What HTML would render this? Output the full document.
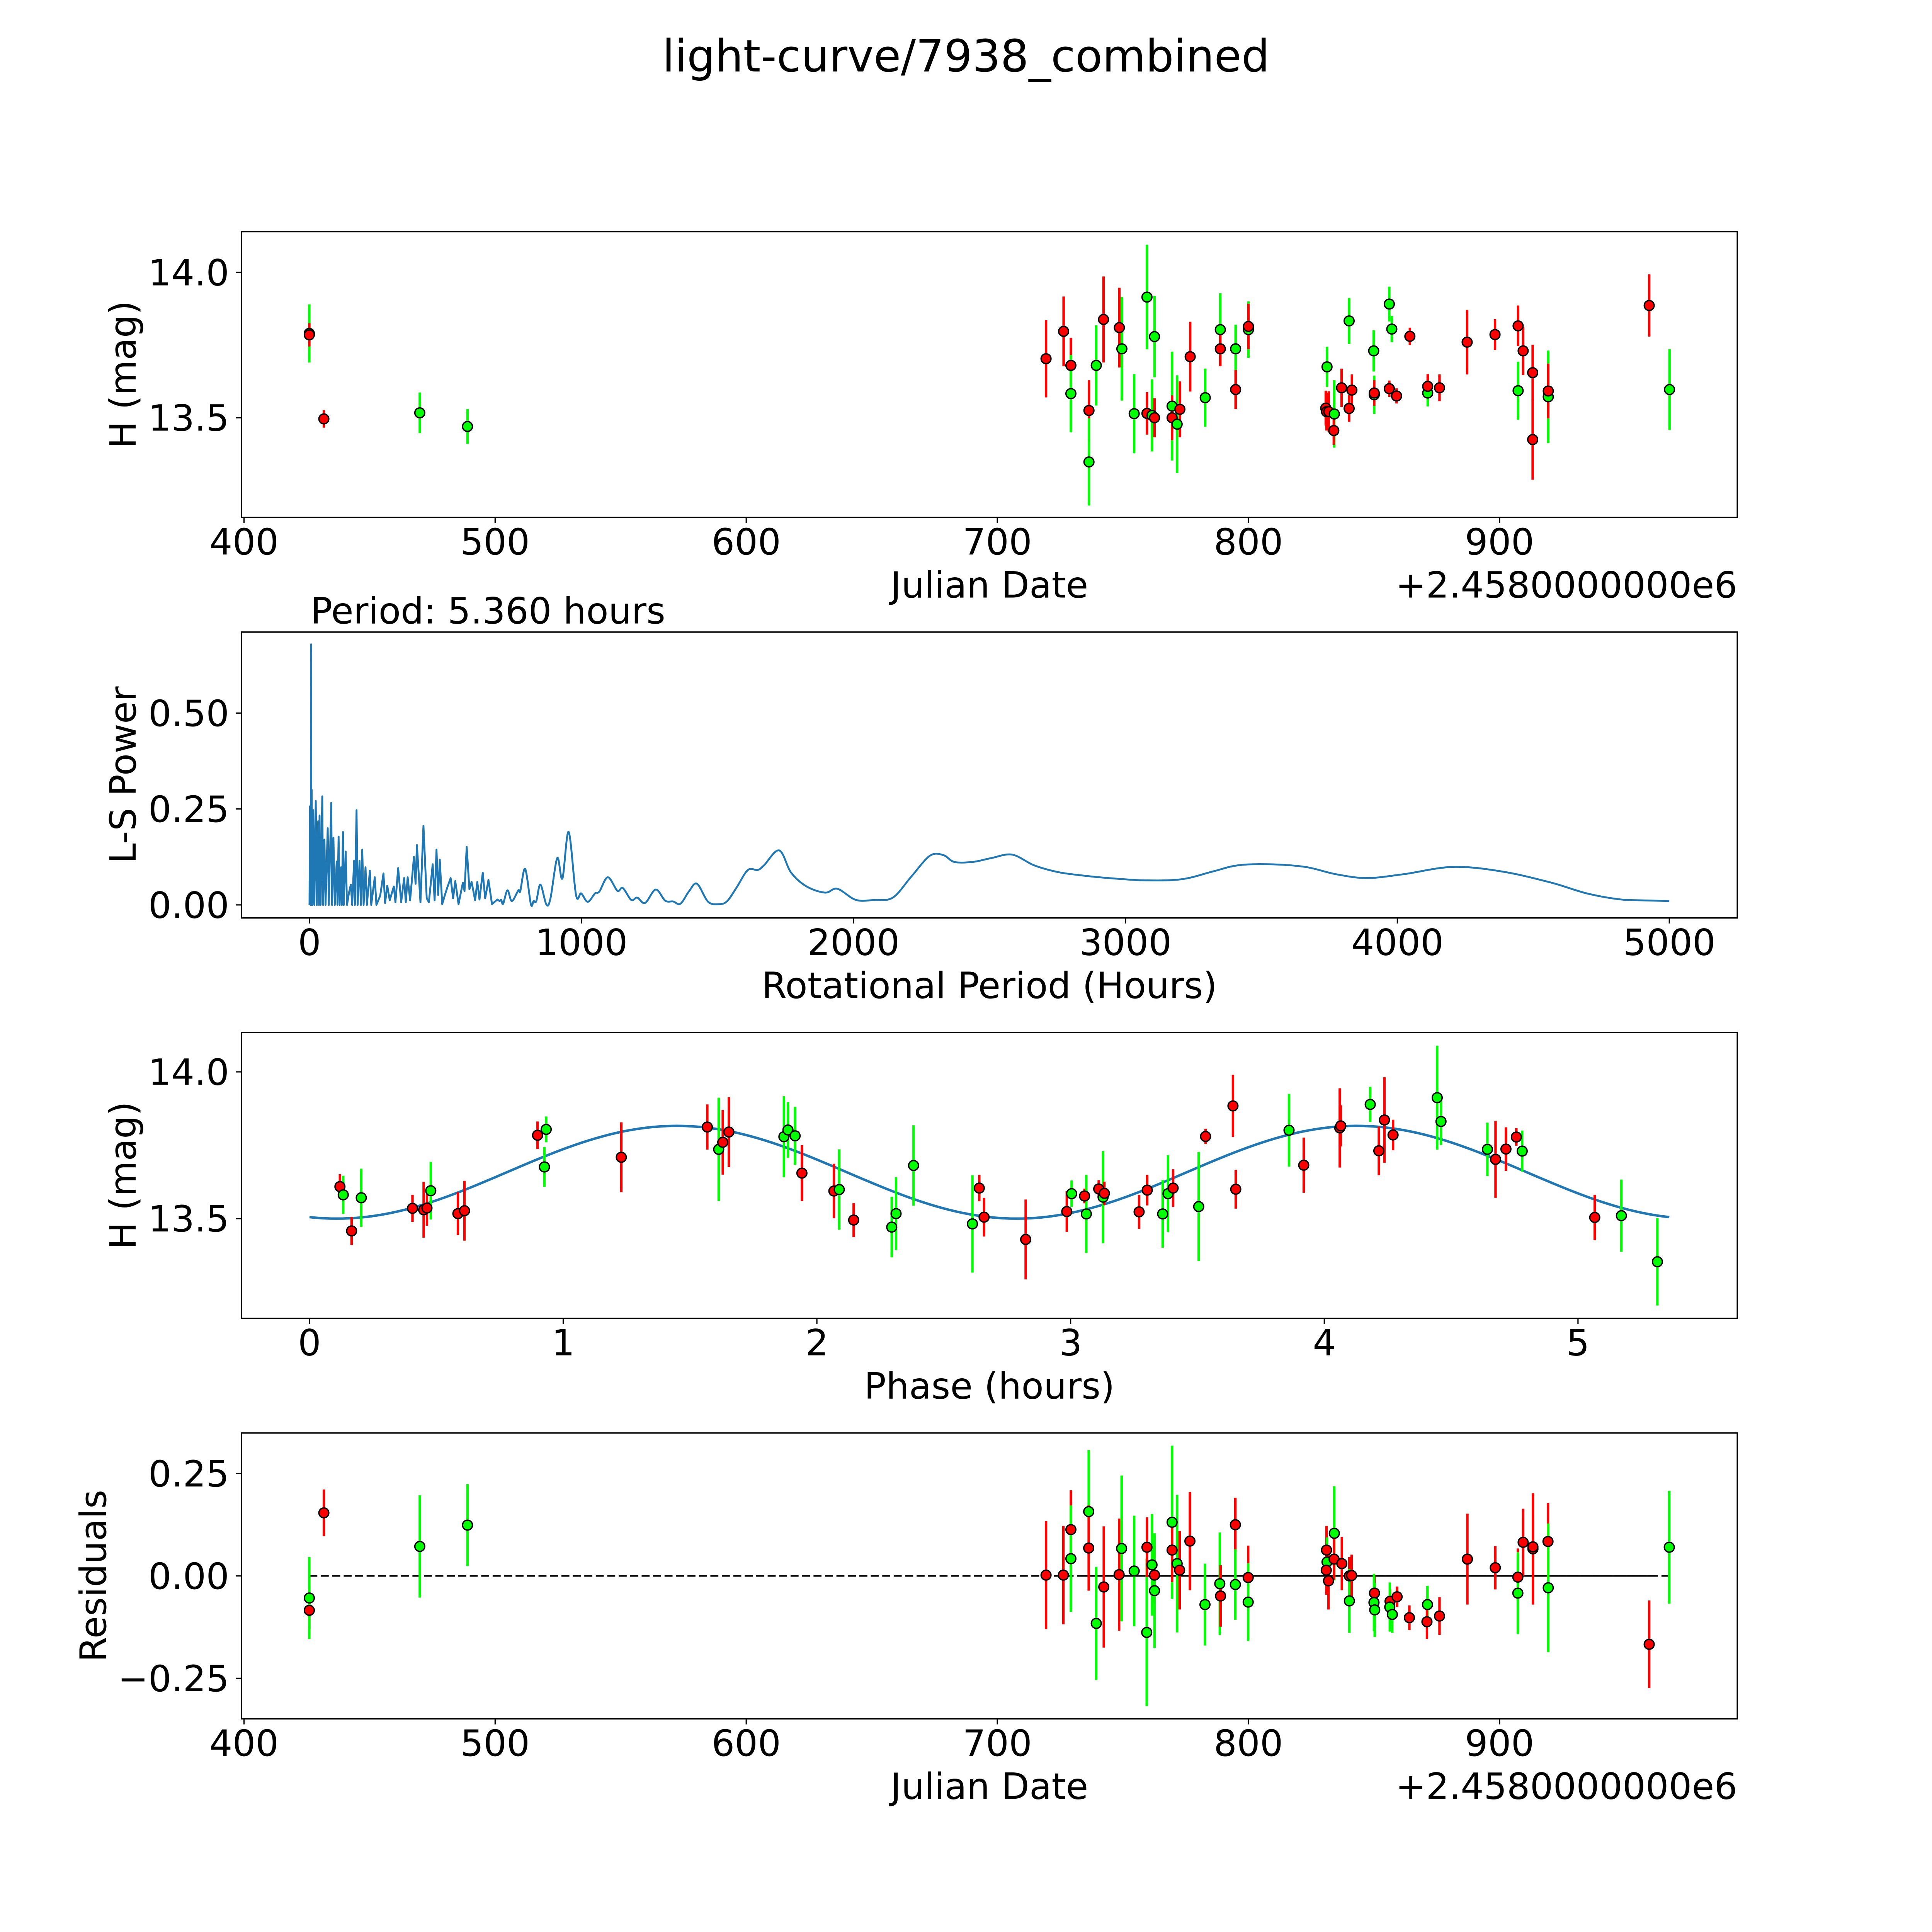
<!DOCTYPE html>
<html><head><meta charset="utf-8">
<style>
html,body{margin:0;padding:0;background:#fff;overflow:hidden;width:100vw;height:100vh;}
svg{display:block;position:absolute;left:0;top:0;width:100vw;height:100vh;}
text{font-family:"DejaVu Sans","Liberation Sans",sans-serif;fill:#000;}
</style></head>
<body>
<svg id="fig" xmlns="http://www.w3.org/2000/svg" viewBox="0 0 1568 1568" preserveAspectRatio="none">
<rect x="0" y="0" width="1568" height="1568" fill="#fff"/>
<text x="784" y="58" font-size="36" text-anchor="middle">light-curve/7938_combined</text>
<g id="p1"></g>
<g id="p2"></g>
<g id="p3"></g>
<g id="p4"></g>
<text x="803" y="485" font-size="29.5" text-anchor="middle">Julian Date</text>
<text x="1410" y="485" font-size="29.5" text-anchor="end">+2.4580000000e6</text>
<text transform="translate(110,304) rotate(-90)" font-size="29.5" text-anchor="middle">H (mag)</text>
<text x="252" y="506" font-size="29.5">Period: 5.360 hours</text>
<text x="803" y="810" font-size="29.5" text-anchor="middle">Rotational Period (Hours)</text>
<text transform="translate(110,629) rotate(-90)" font-size="29.5" text-anchor="middle">L-S Power</text>
<text x="803" y="1135" font-size="29.5" text-anchor="middle">Phase (hours)</text>
<text transform="translate(110,954) rotate(-90)" font-size="29.5" text-anchor="middle">H (mag)</text>
<text x="803" y="1460" font-size="29.5" text-anchor="middle">Julian Date</text>
<text x="1410" y="1460" font-size="29.5" text-anchor="end">+2.4580000000e6</text>
<text transform="translate(86,1279) rotate(-90)" font-size="29.5" text-anchor="middle">Residuals</text>
</svg>
<script>
// ---------- Panel 1: light curve ----------
var lcDate = [426,426,431.8,470,489,719.4,726.4,729.3,729.3,736.5,736.5,739.4,742.3,748.6,749.6,754.5,759.6,759.6,761.6,762.6,762.6,769.6,769.6,771.6,772.7,776.8,782.8,788.8,788.8,794.9,794.9,800,800,831.3,830.8,831.1,832,834.2,834,837.1,840.1,840.1,841.2,849.9,850.1,850.1,856.1,857.1,856.1,859,864.3,871.4,871.4,876.1,887.1,898.2,907.4,907.4,909.4,913.2,913.2,919.4,919.4,959.6,967.7];
var lcMag = [13.79,13.785,13.496,13.517,13.47,13.703,13.797,13.68,13.583,13.525,13.348,13.68,13.838,13.81,13.737,13.514,13.915,13.515,13.508,13.779,13.5,13.54,13.5,13.478,13.529,13.71,13.569,13.803,13.737,13.737,13.597,13.803,13.814,13.675,13.533,13.521,13.521,13.513,13.456,13.603,13.833,13.532,13.595,13.73,13.579,13.585,13.891,13.805,13.6,13.575,13.78,13.585,13.608,13.603,13.76,13.786,13.816,13.593,13.73,13.655,13.425,13.572,13.592,13.886,13.597];
var lcErr = [0.1,0.04,0.03,0.07,0.06,0.133,0.12,0.095,0.133,0.104,0.15,0.138,0.148,0.137,0.178,0.136,0.18,0.073,0.124,0.14,0.067,0.187,0.077,0.168,0.096,0.12,0.1,0.125,0.06,0.083,0.067,0.097,0.078,0.069,0.06,0.065,0.07,0.116,0.049,0.066,0.079,0.046,0.054,0.071,0.066,0.044,0.06,0.045,0.028,0.026,0.03,0.046,0.042,0.046,0.111,0.053,0.07,0.1,0.083,0.096,0.138,0.159,0.094,0.107,0.139];
var lcBand = ["g","r","r","g","g","r","r","r","g","r","g","g","r","r","g","g","g","r","g","g","r","g","r","g","r","r","g","g","r","g","r","g","r","g","r","r","r","g","r","r","g","r","r","g","g","r","g","g","r","r","r","g","r","r","r","r","r","g","r","r","r","g","r","r","g"];
var dateTicks = [400,500,600,700,800,900];
var magTicks = [13.5,14.0];
var magTickLabels = ["13.5","14.0"];

// ---------- Panel 2: periodogram ----------
var lsPeriod = [0,2,4,6,7,8,11,14,18,23,27,32,35,37,41,47,50,55,59,67,71,80,83,88,93,100,103,107,111,116,119,123,126,133,138,145,152,157,164,167,173,177,184,189,194,199,206,211,222,227,240,246,260,272,278,286,295,310,316,326,337,348,354,361,370,384,390,395,408,419,431,439,453,460,467,473,479,488,498,507,519,528,536,548,564,570,578,588,596,609,617,625,637,646,658,671,691,699,705,712,728,744,768,775,793,814,824,834,849,871,886,911,930,953,980,999,1023,1050,1066,1097,1132,1152,1183,1205,1234,1273,1308,1337,1364,1396,1425,1466,1507,1536,1571,1612,1648,1671,1727,1771,1828,1896,1941,2009,2077,2145,2213,2281,2330,2371,2439,2507,2584,2665,2756,2850,2937,3072,3208,3321,3412,3525,3661,3774,3887,4023,4204,4385,4566,4702,4838,5000];
var lsPower = [0,0.257,0,0.679,0,0.3,0,0.247,0,0.271,0,0.218,0,0.233,0,0.283,0,0.17,0,0.2,0,0.266,0,0.175,0,0.113,0,0.178,0,0.098,0,0.19,0,0.139,0,0.031,0.053,0,0.115,0,0.247,0,0.115,0,0.144,0,0.098,0,0.089,0,0.072,0,0.024,0.082,0.005,0.05,0.012,0.048,0.007,0.096,0.007,0.07,0.007,0.072,0.012,0.125,0.055,0.156,0.007,0.206,0.017,0.007,0.106,0.012,0.144,0.026,0.118,0.002,0.026,0.046,0.07,0.017,0.062,0.002,0.058,0.036,0.151,0.041,0.06,0.012,0.06,0.014,0.084,0.017,0.065,0.002,0.014,0.01,0.013,0.003,0.038,0.01,0.038,0.036,0.094,0.002,0.01,0.01,0.053,0.001,0.017,0.122,0.069,0.19,0.026,0.03,0.008,0.03,0.035,0.072,0.037,0.044,0.013,0.019,0.005,0.04,0.011,0.009,0.003,0.036,0.055,0.008,0.002,0.01,0.046,0.091,0.091,0.103,0.142,0.084,0.048,0.032,0.042,0.013,0.013,0.019,0.074,0.128,0.13,0.112,0.112,0.122,0.131,0.103,0.085,0.076,0.07,0.064,0.067,0.087,0.103,0.106,0.099,0.08,0.07,0.08,0.099,0.087,0.058,0.029,0.013,0.01];
var periodTicks = [0,1000,2000,3000,4000,5000];
var powerTicks = [0,0.25,0.5];
var powerTickLabels = ["0.00","0.25","0.50"];

// ---------- Panel 3: phase folded ----------
var phPhase = [0.12,0.133,0.204,0.166,0.406,0.45,0.463,0.478,0.585,0.611,0.899,0.933,0.926,1.229,1.568,1.613,1.629,1.653,1.87,1.886,1.914,1.941,2.067,2.088,2.145,2.295,2.312,2.381,2.613,2.64,2.659,2.823,2.985,3.004,3.055,3.062,3.111,3.128,3.133,3.27,3.302,3.363,3.384,3.404,3.505,3.532,3.64,3.651,3.861,3.919,4.061,4.065,4.181,4.215,4.237,4.271,4.445,4.46,4.643,4.675,4.716,4.757,4.78,5.066,5.171,5.313];
var phMag = [13.609,13.581,13.571,13.458,13.535,13.53,13.536,13.595,13.517,13.527,13.784,13.804,13.676,13.709,13.812,13.736,13.76,13.795,13.779,13.802,13.782,13.655,13.594,13.599,13.495,13.471,13.517,13.681,13.482,13.604,13.505,13.429,13.524,13.585,13.577,13.516,13.601,13.573,13.586,13.523,13.597,13.516,13.585,13.604,13.541,13.78,13.884,13.6,13.801,13.682,13.809,13.816,13.889,13.731,13.836,13.785,13.912,13.831,13.736,13.702,13.737,13.778,13.73,13.504,13.51,13.353];
var phErr = [0.042,0.065,0.099,0.048,0.046,0.095,0.06,0.098,0.073,0.102,0.047,0.044,0.068,0.119,0.077,0.176,0.11,0.119,0.138,0.095,0.099,0.095,0.093,0.137,0.058,0.103,0.124,0.137,0.166,0.045,0.066,0.136,0.069,0.045,0.025,0.133,0.03,0.157,0.04,0.058,0.052,0.115,0.131,0.064,0.186,0.026,0.106,0.066,0.124,0.094,0.135,0.07,0.06,0.083,0.146,0.052,0.177,0.08,0.091,0.131,0.074,0.03,0.07,0.077,0.123,0.149];
var phBand = ["r","g","g","r","r","r","r","g","r","r","r","g","g","r","r","g","r","r","g","g","g","r","r","g","r","g","g","g","g","r","r","r","r","g","r","g","r","g","r","r","r","g","g","r","g","r","r","r","g","r","r","r","g","r","r","r","g","g","g","r","r","r","g","r","g","g"];
var modelCoef = [13.658, 0.158, 1.448, 5.36]; // mean, amplitude, peak phase, period
var phaseTicks = [0,1,2,3,4,5];

// ---------- Panel 4: residuals ----------
var resDate = [426,426,431.8,470,489,719.4,726.3,729.3,729.3,736.4,736.4,739.4,742.4,748.5,749.5,754.5,759.5,759.6,761.6,762.6,762.6,769.6,769.6,771.6,772.6,776.7,782.7,788.6,788.9,794.8,794.8,799.9,799.9,831.1,831.3,831,831.9,834.2,834.1,837.2,840.2,840.2,841.1,850.2,850,850.3,856.4,856.3,857.3,859.2,864.1,871.3,871.1,876.1,887.2,898.3,907.3,907.3,909.4,913.3,913.3,919.3,919.4,959.6,967.6];
var resVal = [-0.084,-0.054,0.154,0.072,0.124,0.002,0.002,0.113,0.042,0.157,0.068,-0.116,-0.027,0.003,0.067,0.012,-0.138,0.07,0.027,0.002,-0.036,0.131,0.063,0.03,0.014,0.085,-0.07,-0.019,-0.049,0.125,-0.021,-0.004,-0.064,0.063,0.034,0.014,-0.012,0.104,0.041,0.03,0,-0.061,0.001,-0.042,-0.065,-0.083,-0.062,-0.076,-0.094,-0.051,-0.102,-0.07,-0.112,-0.098,0.041,0.02,-0.003,-0.042,0.082,0.066,0.071,0.084,-0.029,-0.167,0.07];
var resErr = [0.045,0.1,0.057,0.125,0.1,0.132,0.12,0.096,0.13,0.15,0.104,0.138,0.148,0.137,0.178,0.135,0.18,0.073,0.124,0.067,0.14,0.187,0.078,0.168,0.096,0.12,0.1,0.125,0.075,0.066,0.086,0.078,0.095,0.059,0.06,0.06,0.07,0.115,0.05,0.065,0.046,0.078,0.051,0.044,0.07,0.066,0.03,0.06,0.045,0.025,0.03,0.046,0.042,0.046,0.111,0.053,0.07,0.1,0.082,0.136,0.07,0.094,0.157,0.107,0.138];
var resBand = ["r","g","r","g","g","r","r","r","g","g","r","g","r","r","g","g","g","r","g","r","g","g","r","g","r","r","g","g","r","r","g","r","g","r","g","r","r","g","r","r","r","g","r","r","g","g","r","g","g","r","r","g","r","r","r","r","r","g","r","r","r","r","g","r","g"];
var resTicks = [-0.25,0,0.25];
var resTickLabels = ["\u22120.25","0.00","0.25"];

var NS = "http://www.w3.org/2000/svg";
var bandColor = {r:"#ff0000", g:"#00ff00"};
function mk(tag, parent, attrs){
  var e = document.createElementNS(NS, tag);
  for (var k in attrs) e.setAttribute(k, attrs[k]);
  parent.appendChild(e);
  return e;
}
function makeAxes(box, xmin, xmax, ymin, ymax){
  return {
    x: function(v){ return box.x0 + (v - xmin) / (xmax - xmin) * (box.x1 - box.x0); },
    y: function(v){ return box.y1 - (v - ymin) / (ymax - ymin) * (box.y1 - box.y0); },
    box: box
  };
}
function drawFrame(g, ax, xt, xtl, yt, ytl){
  var b = ax.box;
  var fr = mk("rect", g, {x:b.x0, y:b.y0, width:b.x1-b.x0, height:b.y1-b.y0, fill:"none", stroke:"#000", "stroke-width":1.1});
  
  
  for (var i=0;i<xt.length;i++){
    var px = ax.x(xt[i]);
    var tk = mk("line", g, {x1:px, x2:px, y1:b.y1, y2:b.y1+4.5, stroke:"#000", "stroke-width":1});
    
    
    var tl = mk("text", g, {x:px, y:b.y1+30, "font-size":29.5, "text-anchor":"middle"});
    tl.textContent = xtl[i];
    
    
  }
  for (var j=0;j<yt.length;j++){
    var py = ax.y(yt[j]);
    var tk2 = mk("line", g, {x1:b.x0-4.5, x2:b.x0, y1:py, y2:py, stroke:"#000", "stroke-width":1});
    
    
    var tl2 = mk("text", g, {x:b.x0-10, y:py+10.5, "font-size":29.5, "text-anchor":"end"});
    tl2.textContent = ytl[j];
    
    
  }
}
function drawErrPoints(g, ax, xs, ys, es, bands){
  for (var i=0;i<xs.length;i++){
    var c = bandColor[bands[i]];
    var px = ax.x(xs[i]);
    var eb = mk("line", g, {x1:px, x2:px, y1:ax.y(ys[i]-es[i]), y2:ax.y(ys[i]+es[i]), stroke:c, "stroke-width":2});
    
    
  }
  for (var k=0;k<xs.length;k++){
    var pt = mk("circle", g, {cx:ax.x(xs[k]), cy:ax.y(ys[k]), r:4, fill:bandColor[bands[k]], stroke:"#000", "stroke-width":1.1});
    
    
  }
}
function numLabels(arr){ return arr.map(function(v){ return String(v); }); }

// Panel 1
var g1 = document.getElementById("p1");
var ax1 = makeAxes({x0:196,x1:1410,y0:188,y1:420}, 399, 994.7, 13.157, 14.14);
drawFrame(g1, ax1, dateTicks, numLabels(dateTicks), magTicks, magTickLabels);
drawErrPoints(g1, ax1, lcDate, lcMag, lcErr, lcBand);

// Panel 2 (smooth Catmull-Rom for the broad part of the curve)
var g2 = document.getElementById("p2");
var ax2 = makeAxes({x0:196,x1:1410,y0:513,y1:745}, -250, 5250, -0.034, 0.711);
drawFrame(g2, ax2, periodTicks, numLabels(periodTicks), powerTicks, powerTickLabels);
var P = [];
for (var i=0;i<lsPeriod.length;i++){ P.push([ax2.x(lsPeriod[i]), ax2.y(lsPower[i])]); }
var d2 = "M" + P[0][0].toFixed(2) + " " + P[0][1].toFixed(2);
for (var i=1;i<P.length;i++){
  if (lsPeriod[i] < 700 || i+1 >= P.length) { d2 += "L" + P[i][0].toFixed(2) + " " + P[i][1].toFixed(2); continue; }
  var p0 = P[i-2] || P[i-1], p1 = P[i-1], p2 = P[i], p3 = P[i+1];
  var c1x = p1[0] + (p2[0]-p0[0])/6, c1y = p1[1] + (p2[1]-p0[1])/6;
  var c2x = p2[0] - (p3[0]-p1[0])/6, c2y = p2[1] - (p3[1]-p1[1])/6;
  d2 += "C" + c1x.toFixed(2) + " " + c1y.toFixed(2) + " " + c2x.toFixed(2) + " " + c2y.toFixed(2) + " " + p2[0].toFixed(2) + " " + p2[1].toFixed(2);
}
var ls = mk("path", g2, {d:d2, fill:"none", stroke:"#1f77b4", "stroke-width":1.5, "stroke-linejoin":"round"});



// Panel 3
var g3 = document.getElementById("p3");
var ax3 = makeAxes({x0:196,x1:1410,y0:838,y1:1070}, -0.268, 5.628, 13.16, 14.134);
drawFrame(g3, ax3, phaseTicks, numLabels(phaseTicks), magTicks, magTickLabels);
var d3 = "";
for (var s=0;s<=200;s++){
  var ph = modelCoef[3]*s/200;
  var mv = modelCoef[0] + modelCoef[1]*Math.cos(4*Math.PI*(ph-modelCoef[2])/modelCoef[3]);
  d3 += (s?"L":"M") + ax3.x(ph).toFixed(2) + " " + ax3.y(mv).toFixed(2);
}
var ml = mk("path", g3, {d:d3, fill:"none", stroke:"#1f77b4", "stroke-width":2});


drawErrPoints(g3, ax3, phPhase, phMag, phErr, phBand);

// Panel 4
var g4 = document.getElementById("p4");
var ax4 = makeAxes({x0:196,x1:1410,y0:1163,y1:1395}, 399, 994.7, -0.349, 0.349);
drawFrame(g4, ax4, dateTicks, numLabels(dateTicks), resTicks, resTickLabels);
var zl = mk("line", g4, {x1:ax4.x(426), x2:ax4.x(967.7), y1:ax4.y(0), y2:ax4.y(0), stroke:"#000", "stroke-width":1.3, "stroke-dasharray":"6.5 2.8"});


var zs = mk("line", g4, {x1:ax4.x(733), x2:ax4.x(962), y1:ax4.y(0), y2:ax4.y(0), stroke:"#000", "stroke-width":1.3});


drawErrPoints(g4, ax4, resDate, resVal, resErr, resBand);
</script>
</body></html>
